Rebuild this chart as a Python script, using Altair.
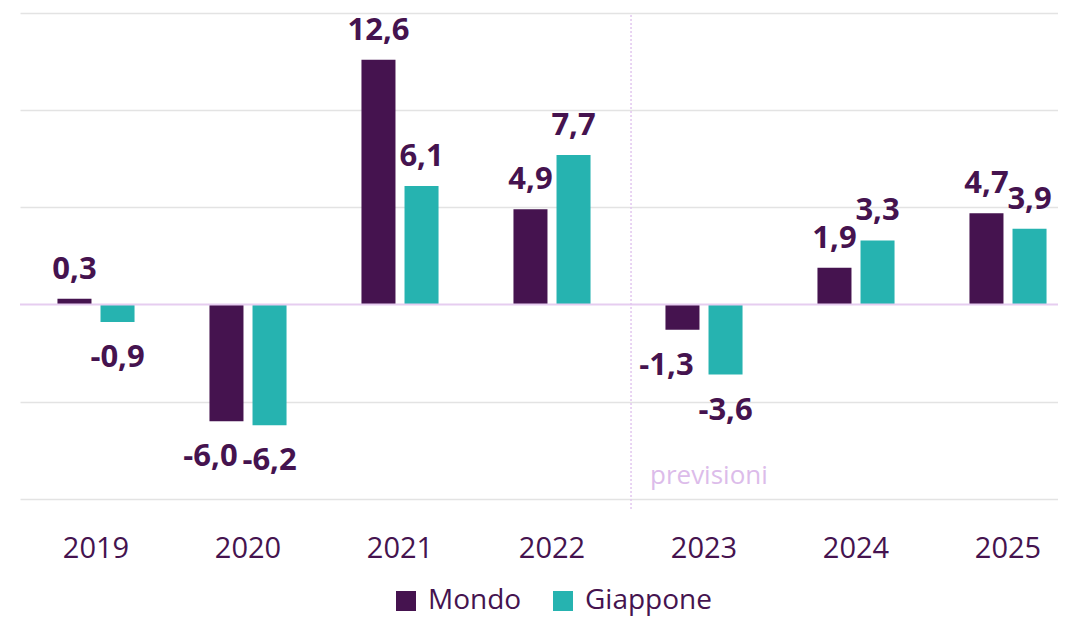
import altair as alt
import pandas as pd

years = ["2019", "2020", "2021", "2022", "2023", "2024", "2025"]
mondo = [0.3, -6.0, 12.6, 4.9, -1.3, 1.9, 4.7]
giappone = [-0.9, -6.2, 6.1, 7.7, -3.6, 3.3, 3.9]
series = ["Mondo", "Giappone"]
colors = ["#45134f", "#26b3b0"]

rows = []
for y, m, g in zip(years, mondo, giappone):
    rows.append({"Anno": y, "Serie": "Mondo", "Valore": m})
    rows.append({"Anno": y, "Serie": "Giappone", "Valore": g})
df = pd.DataFrame(rows)
df["Etichetta"] = df["Valore"].map(lambda v: f"{v:.1f}".replace(".", ","))

FONT = "Open Sans"
PURPLE = "#45134f"
LAB = 31

x_enc = alt.X("Anno:N", sort=years, title=None,
              scale=alt.Scale(paddingInner=0, paddingOuter=0, range=[0, 1064]),
              axis=alt.Axis(labelAngle=0, labelFontSize=29, labelFont=FONT, labelColor=PURPLE,
                            ticks=False, domain=False, labelPadding=35, grid=False))
y_scale = alt.Scale(domain=[-10, 15], nice=False)
y_enc = alt.Y("Valore:Q", scale=y_scale, title=None,
              axis=alt.Axis(values=[-10, -5, 5, 10, 15], labels=False, ticks=False, domain=False,
                            grid=True, gridColor="#e3e3e3", gridWidth=1.5))
xoff = alt.XOffset("Serie:N", sort=series,
                   scale=alt.Scale(paddingInner=0.21, paddingOuter=0.87))
color = alt.Color("Serie:N", sort=series, scale=alt.Scale(domain=series, range=colors),
                  legend=alt.Legend(title=None, orient="none", legendX=372, legendY=574,
                                    direction="horizontal",
                                    symbolType="square", symbolSize=400, symbolStrokeWidth=0,
                                    labelFontSize=28, labelFont=FONT, labelColor=PURPLE,
                                    columnPadding=27, symbolOffset=0, labelOffset=8))

base = alt.Chart(df)

bars = base.mark_bar().encode(x=x_enc, y=y_enc, xOffset=xoff, color=color)

zero = alt.Chart(pd.DataFrame({"v": [0]})).mark_rule(color="#e6cdf0", strokeWidth=2).encode(
    y=alt.Y("v:Q", scale=y_scale), x=alt.value(0), x2=alt.value(1064))

pos_lab = base.transform_filter("datum.Valore >= 0").mark_text(
    font=FONT, fontWeight="bold", fontSize=LAB, color=PURPLE, baseline="alphabetic", dy=-20
).encode(x=alt.X("Anno:N", sort=years), y=alt.Y("Valore:Q", scale=y_scale), xOffset=xoff,
         text="Etichetta:N")

neg_m = base.transform_filter("datum.Valore < 0 && datum.Serie == 'Mondo'").mark_text(
    font=FONT, fontWeight="bold", fontSize=LAB, color=PURPLE, baseline="top", dy=21, dx=-16
).encode(x=alt.X("Anno:N", sort=years), y=alt.Y("Valore:Q", scale=y_scale), xOffset=xoff,
         text="Etichetta:N")

neg_g = base.transform_filter("datum.Valore < 0 && datum.Serie == 'Giappone'").mark_text(
    font=FONT, fontWeight="bold", fontSize=LAB, color=PURPLE, baseline="top", dy=21
).encode(x=alt.X("Anno:N", sort=years), y=alt.Y("Valore:Q", scale=y_scale), xOffset=xoff,
         text="Etichetta:N")

divider = alt.Chart(pd.DataFrame({"Anno": ["2023"], "top": [14.9], "bot": [-10.6]})).mark_rule(
    color="#e2c6ef", strokeWidth=1.5, strokeDash=[2, 2]
).encode(x=alt.X("Anno:N", sort=years, bandPosition=0.02), y=alt.Y("top:Q", scale=y_scale), y2="bot:Q")

prev = alt.Chart(pd.DataFrame({"Anno": ["2023"], "v": [-8.8], "t": ["previsioni"]})).mark_text(
    font=FONT, fontSize=26, color="#dcbcea", align="left", baseline="middle", dx=22
).encode(x=alt.X("Anno:N", sort=years, bandPosition=0), y=alt.Y("v:Q", scale=y_scale), text="t:N")

chart = alt.layer(bars, zero, divider, prev, pos_lab, neg_m, neg_g).properties(
    width=1038, height=486,
    autosize=alt.AutoSizeParams(type="none"),
    padding={"left": 12, "top": 5, "right": 0, "bottom": 121}
).configure_view(stroke=None)

chart.save("out.html", embed_options={"renderer": "svg", "actions": False})
